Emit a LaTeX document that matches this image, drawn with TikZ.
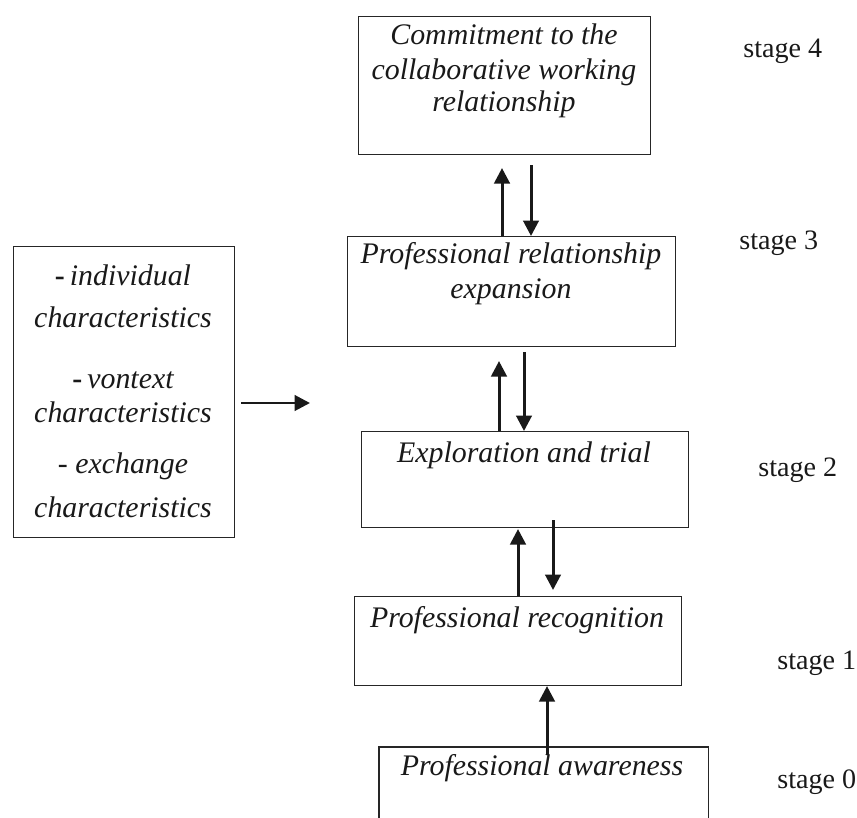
\documentclass[tikz,border=0pt]{standalone}
\usepackage{fontspec}
\setmainfont{Liberation Serif}
\usetikzlibrary{arrows.meta}
\tikzset{
  stagebox/.style={draw=black!85, line width=0.6pt, rectangle, inner sep=0pt, anchor=north west},
  boxtext/.style={font=\fontsize{17}{20}\selectfont\itshape, inner sep=0pt, anchor=base, align=center, text=black!90},
  stagelabel/.style={font=\fontsize{16}{19}\selectfont, inner sep=0pt, anchor=base west, text=black!90},
  arr/.style={line width=1.7pt, black!90, -{Triangle[width=0.31cm, length=0.31cm]}}
}
\begin{document}
\begin{tikzpicture}[x=0.02cm, y=-0.02cm]
\useasboundingbox (0,0) rectangle (857,817);
% boxes
\node[stagebox, minimum width=292*0.02cm, minimum height=138*0.02cm] (b4) at (358,16) {};
\node[stagebox, minimum width=328*0.02cm, minimum height=110*0.02cm] (b3) at (347,236) {};
\node[stagebox, minimum width=327*0.02cm, minimum height=96*0.02cm] (b2) at (361,431) {};
\node[stagebox, minimum width=327*0.02cm, minimum height=89*0.02cm] (b1) at (354,596) {};
\node[stagebox, draw=none, minimum width=328*0.02cm, minimum height=70*0.02cm] (b0) at (379,747) {};
\draw[black!85, line width=0.6pt] (b0.south west) -- (b0.north west) -- (b0.north east) -- (b0.south east);
\node[stagebox, minimum width=221*0.02cm, minimum height=291*0.02cm] (lb) at (13,246) {};
% box texts
\node[boxtext] (t4a) at (504,45) {Commitment to the};
\node[boxtext] (t4b) at (504,80) {collaborative working};
\node[boxtext] (t4c) at (504,112) {relationship};
\node[boxtext] (t3a) at (511,263) {Professional relationship};
\node[boxtext] (t3b) at (511,298) {expansion};
\node[boxtext] (t2) at (524,462) {Exploration and trial};
\node[boxtext] (t1) at (517,627) {Professional recognition};
\node[boxtext] (t0) at (542,775) {Professional awareness};
% left box texts
\node[boxtext] (l1) at (123,285) {\upshape\bfseries -\,\itshape\mdseries individual};
\node[boxtext] (l2) at (123,327) {characteristics};
\node[boxtext] (l3) at (123,388) {\upshape\bfseries -\,\itshape\mdseries vontext};
\node[boxtext] (l4) at (123,422) {characteristics};
\node[boxtext] (l5) at (123,473) {- exchange};
\node[boxtext] (l6) at (123,517) {characteristics};
% stage labels
\node[stagelabel] (s4) at (743,58) {stage 4};
\node[stagelabel] (s3) at (739,250) {stage 3};
\node[stagelabel] (s2) at (758,476) {stage 2};
\node[stagelabel] (s1) at (777,669) {stage 1};
\node[stagelabel] (s0) at (777,788) {stage 0};
% arrow x positions
\coordinate (x43u) at (502,0);
\coordinate (x43d) at (531,0);
\coordinate (x32u) at (499,0);
\coordinate (x32d) at (524,0);
\coordinate (x21u) at (518,0);
\coordinate (x21d) at (553,0);
\coordinate (x10u) at (547,0);
\coordinate (lend) at (310,403);
% arrows
\draw[arr, shorten >=13*0.02cm] (b3.north -| x43u) -- (b4.south -| x43u);
\draw[arr, shorten <=10*0.02cm] (b4.south -| x43d) -- (b3.north -| x43d);
\draw[arr, shorten >=14*0.02cm] (b2.north -| x32u) -- (b3.south -| x32u);
\draw[arr, shorten <=5*0.02cm] (b3.south -| x32d) -- (b2.north -| x32d);
\draw[arr, shorten >=1*0.02cm] (b1.north -| x21u) -- (b2.south -| x21u);
\draw[arr, shorten <=-8*0.02cm, shorten >=6*0.02cm] (b2.south -| x21d) -- (b1.north -| x21d);
\draw[arr, shorten <=-8*0.02cm] (b0.north -| x10u) -- (b1.south -| x10u);
\draw[arr, shorten <=6*0.02cm] (lb.east |- lend) -- (lend);
\end{tikzpicture}
\end{document}
